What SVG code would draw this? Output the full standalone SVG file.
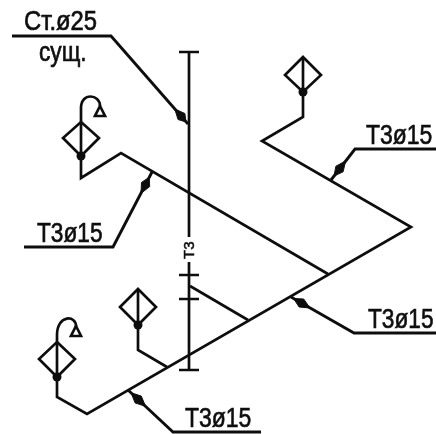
<svg xmlns="http://www.w3.org/2000/svg" width="436" height="434" viewBox="0 0 436 434">
<defs><filter id="soft" x="0" y="0" width="100%" height="100%" filterUnits="objectBoundingBox"><feGaussianBlur stdDeviation="0.45"/></filter></defs>
<style>
.l{fill:none;stroke:#111;stroke-width:2.7;stroke-linejoin:miter}
.ld{fill:none;stroke:#111;stroke-width:2.9}
.h{fill:#111;stroke:#111;stroke-width:1}
.d{fill:none;stroke:#111;stroke-width:2.7}
.t{font-family:"Liberation Sans",Arial,sans-serif;font-size:28px;fill:#111;stroke:#111;stroke-width:.7}
</style>
<rect width="436" height="434" fill="#fff"/>
<g filter="url(#soft)">
<rect width="436" height="434" fill="#fff"/>
<g id="connectors">
<path class="l" d="M189 52V237M189 262V370M179 52H199M179 370H199M179 275H199M179 299H199"/>
<path class="l" d="M81 156V178L121 153L328 274"/>
<path class="l" d="M303 92V117L262 141L411 227L87 414L57 397V377"/>
<path class="l" d="M138 325V350L167 367"/>
<path class="l" d="M190 286L248 320"/>
<path class="ld" d="M12 36H111L188 124"/>
<path class="ld" d="M152 172L113 247H24"/>
<path class="ld" d="M331 180L355 149H436"/>
<path class="ld" d="M291 297L354 333H436"/>
<path class="ld" d="M128 390L173 432H261"/>
<polygon class="h" points="186,122 184.9,113.5 174.8,109 178,119.5"/>
<polygon class="h" points="149.2,177.3 149.7,186.6 141,193.4 141.5,182.4"/>
<polygon class="h" points="334,176 343.1,171.8 345.6,161 335.9,166.2"/>
<polygon class="h" points="293.6,298.5 303.7,299 310,308 299.1,307"/>
<polygon class="h" points="131,392.7 141.3,396.1 145.5,406.3 135.1,402.9"/>
</g>
<g id="valve-upper-left">
<path class="d" d="M81 122L99 138L81 156L63 138Z"/>
<path class="d" d="M81 156V108C81 92 100 94 100 106"/>
<circle cx="81" cy="156" r="4.5" fill="#111"/>
<path class="d" d="M100 106L105 116H95Z"/>
</g>
<g id="valve-top-right">
<path class="d" d="M303 57L321 75L303 92L285 75Z"/>
<path class="d" d="M303 57V92"/>
<circle cx="303" cy="92" r="4.5" fill="#111"/>
</g>
<g id="valve-middle">
<path class="d" d="M138 289L156 307L138 325L120 307Z"/>
<path class="d" d="M138 289V325"/>
<circle cx="138" cy="325" r="4.5" fill="#111"/>
</g>
<g id="valve-lower-left">
<path class="d" d="M57 342L75 359L57 377L39 359Z"/>
<path class="d" d="M57 377V335C57 314 77 315 76 327"/>
<circle cx="57" cy="377" r="4.5" fill="#111"/>
<path class="d" d="M76 326L81 336H71Z"/>
</g>
<g id="labels">
<text class="t" transform="translate(24,30) scale(.85,1)">Ст.ø25</text>
<text class="t" transform="translate(39,61) scale(.81,1)">сущ.</text>
<text class="t" transform="translate(37,242) scale(.81,1)">Т3ø15</text>
<text class="t" transform="translate(366,144) scale(.82,1)">Т3ø15</text>
<text class="t" transform="translate(368,328) scale(.81,1)">Т3ø15</text>
<text class="t" transform="translate(185,427) scale(.82,1)">Т3ø15</text>
<text class="t" transform="translate(194,259) rotate(-90)" style="font-size:15px;stroke-width:.5">Т3</text>
</g>
</g>
</svg>
